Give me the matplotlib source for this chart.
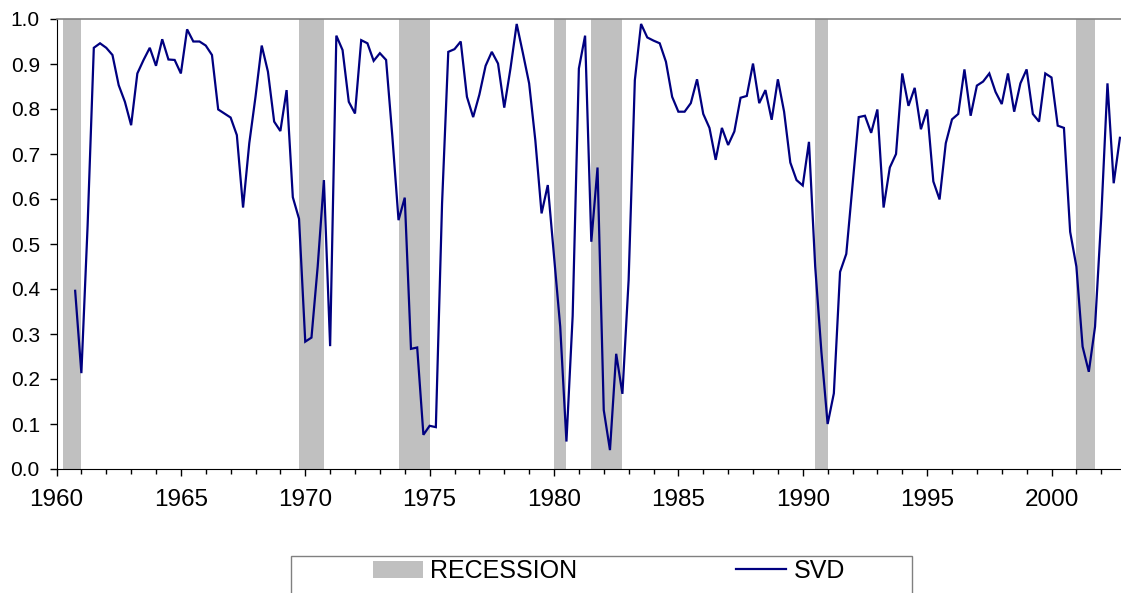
import numpy as np
import matplotlib
matplotlib.use("Agg")
import matplotlib.pyplot as plt
from matplotlib.patches import Patch, Rectangle
from matplotlib.lines import Line2D
from matplotlib.ticker import MultipleLocator, FixedLocator

plt.rcParams['font.family'] = ['Liberation Sans', 'DejaVu Sans']

# ---- data ----
start_year = 1960
start_quarter = 3  # first observation: 1960Q3
svd = [
    0.396, 0.213, 0.54, 0.936, 0.946, 0.936, 0.920, 0.853, 0.816, 0.764,
    0.879, 0.909, 0.936, 0.896, 0.955, 0.910, 0.909, 0.879, 0.977, 0.950,
    0.950, 0.941, 0.920, 0.799, 0.790, 0.781, 0.742, 0.581, 0.724, 0.827,
    0.941, 0.883, 0.772, 0.751, 0.842, 0.604, 0.556, 0.283, 0.292, 0.45,
    0.642, 0.273, 0.963, 0.931, 0.816, 0.790, 0.953, 0.946, 0.907, 0.924,
    0.909, 0.74, 0.553, 0.603, 0.267, 0.270, 0.076, 0.096, 0.093, 0.59,
    0.927, 0.933, 0.950, 0.827, 0.782, 0.832, 0.896, 0.927, 0.901, 0.803,
    0.89, 0.989, 0.924, 0.857, 0.73, 0.568, 0.631, 0.474, 0.316, 0.061,
    0.34, 0.890, 0.963, 0.505, 0.670, 0.131, 0.042, 0.256, 0.167, 0.42,
    0.864, 0.989, 0.959, 0.952, 0.946, 0.905, 0.827, 0.794, 0.794, 0.813,
    0.866, 0.789, 0.758, 0.687, 0.758, 0.720, 0.750, 0.825, 0.829, 0.901,
    0.813, 0.842, 0.776, 0.866, 0.794, 0.681, 0.642, 0.630, 0.727, 0.45,
    0.26, 0.100, 0.168, 0.438, 0.478, 0.63, 0.782, 0.785, 0.747, 0.799,
    0.581, 0.670, 0.700, 0.879, 0.807, 0.847, 0.755, 0.799, 0.639, 0.599,
    0.724, 0.777, 0.789, 0.888, 0.785, 0.852, 0.861, 0.879, 0.838, 0.811,
    0.879, 0.794, 0.857, 0.888, 0.789, 0.772, 0.879, 0.870, 0.763, 0.758,
    0.527, 0.450, 0.272, 0.216, 0.316, 0.56, 0.857, 0.635, 0.736,
]
# recessions (start of first quarter, end of last quarter) in years
rec_start = [1960.25, 1969.75, 1973.75, 1980.0, 1981.5, 1990.5, 2001.0]
rec_end = [1961.0, 1970.75, 1975.0, 1980.5, 1982.75, 1991.0, 2001.75]
ytick_vals = [0.0, 0.1, 0.2, 0.3, 0.4, 0.5, 0.6, 0.7, 0.8, 0.9, 1.0]
xtick_years = [1960, 1965, 1970, 1975, 1980, 1985, 1990, 1995, 2000]

# time of each observation: end of its quarter
idx = np.arange(len(svd))
t = start_year + (start_quarter + idx) / 4.0

W, H = 1121, 593
fig = plt.figure(figsize=(W / 100, H / 100), dpi=100)
x0, y0, ytop = 56.5, 469, 19
px_per_year = 24.875
ax = fig.add_axes([x0 / W, 1 - y0 / H, (W - x0) / W, (y0 - ytop) / H])

rec_color = '#C0C0C0'
line_color = '#000080'
for s, e in zip(rec_start, rec_end):
    ax.axvspan(s, e, ymin=0, ymax=1, color=rec_color, lw=0, zorder=1)
ax.plot(t, svd, color=line_color, lw=1.6, zorder=3, solid_joinstyle='miter')

ax.set_xlim(1960, 1960 + (W - x0) / px_per_year)
ax.set_ylim(0, 1)

ax.yaxis.set_major_locator(FixedLocator(ytick_vals))
ax.set_yticklabels([f"{v:.1f}" for v in ytick_vals])
ax.xaxis.set_major_locator(FixedLocator(xtick_years))
ax.set_xticklabels([str(y) for y in xtick_years])
ax.xaxis.set_minor_locator(MultipleLocator(1))

ax.tick_params(axis='y', which='major', direction='out', length=5, width=1,
               labelsize=15, pad=7, colors='black')
ax.tick_params(axis='x', which='major', direction='out', length=5.2, width=1,
               labelsize=17.5, pad=9, colors='black')
ax.tick_params(axis='x', which='minor', direction='out', length=3.6, width=1)

ax.spines['right'].set_visible(False)
ax.spines['top'].set_color('#808080')
ax.spines['top'].set_linewidth(1.2)
ax.spines['left'].set_color('black')
ax.spines['bottom'].set_color('black')
ax.set_facecolor('white')

# legend frame (extends below figure bottom)
fig.patches.append(Rectangle((291 / W, -0.05), 621 / W, (1 - 556 / H) + 0.05,
                             transform=fig.transFigure, fill=False,
                             edgecolor='#808080', lw=1.0))
leg_y = 1 - 571 / H
common = dict(frameon=False, borderpad=0, borderaxespad=0, fontsize=18,
              handlelength=2.0, handletextpad=0.3, loc='center left')
fig.legend(handles=[Patch(facecolor=rec_color, edgecolor='none', label='RECESSION')],
           bbox_to_anchor=(373 / W, leg_y), **common)
fig.legend(handles=[Line2D([0], [0], color=line_color, lw=1.6, label='SVD')],
           bbox_to_anchor=(736 / W, leg_y), **common)

fig.savefig('out.png', dpi=100)
